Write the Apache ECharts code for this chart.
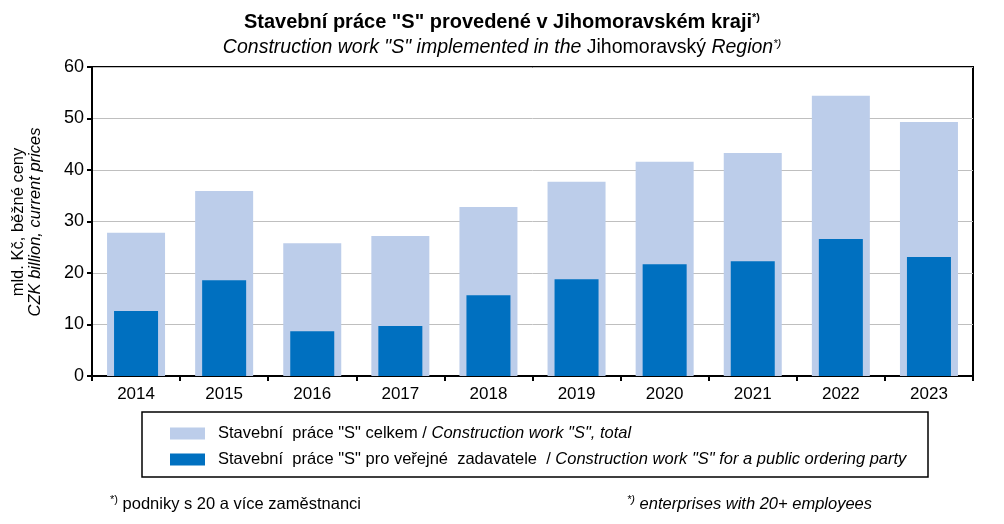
<!DOCTYPE html>
<html lang="cs">
<head>
    <meta charset="UTF-8">
    <script type="text/javascript" src="https://cdn.jsdelivr.net/npm/echarts@6/dist/echarts.min.js"></script>
    <style>
        html, body { margin: 0; padding: 0; background: #fff; }
        #chart { width: 1004px; height: 524px; }
    </style>
</head>
<body>
    <div id="chart"></div>
</body>
<script>
    // data
    var years = ["2014", "2015", "2016", "2017", "2018", "2019", "2020", "2021", "2022", "2023"];
    var totalWork = [27.8, 35.9, 25.8, 27.2, 32.8, 37.7, 41.6, 43.3, 54.4, 49.3];
    var publicWork = [12.6, 18.6, 8.7, 9.7, 15.7, 18.8, 21.7, 22.3, 26.6, 23.1];
    var yTicks = [0, 10, 20, 30, 40, 50, 60];

    var FONT = "Arial, 'Liberation Sans', sans-serif";
    var LIGHT = "#BCCDEA";
    var DARK = "#0070C0";

    var chart = echarts.init(document.getElementById("chart"));

    var option = {
        animation: false,
        backgroundColor: "#fff",
        textStyle: { fontFamily: FONT, color: "#000" },
        title: {
            left: "center",
            top: 7,
            itemGap: 6,
            text: '{b|Stavební práce "S" provedené v Jihomoravském kraji}{sup|*)}',
            subtext: '{i|Construction work "S" implemented in the }{n|Jihomoravský}{i| Region}{sup|*)}',
            textStyle: {
                rich: {
                    b: { fontFamily: FONT, fontSize: 20, fontWeight: "bold", color: "#000" },
                    sup: { fontFamily: FONT, fontSize: 11, color: "#000", padding: [0, 0, 9, 0] }
                }
            },
            subtextStyle: {
                rich: {
                    i: { fontFamily: FONT, fontSize: 19.5, fontStyle: "italic", color: "#000" },
                    n: { fontFamily: FONT, fontSize: 19.5, color: "#000" },
                    sup: { fontFamily: FONT, fontSize: 11, fontStyle: "italic", color: "#000", padding: [0, 0, 9, 0] }
                }
            }
        },
        grid: {
            left: 92, right: 31, top: 67, bottom: 148,
            show: true, borderColor: "#000", borderWidth: 2
        },
        legend: {
            orient: "vertical",
            left: 165,
            top: 420,
            itemWidth: 35,
            itemHeight: 12,
            itemGap: 9,
            icon: "rect",
            selectedMode: false,
            data: ["total", "public"],
            formatter: function (name) {
                if (name === "total") {
                    return '{n|Stavební  práce "S" celkem / }{i|Construction work "S", total}';
                }
                return '{n|Stavební  práce "S" pro veřejné  zadavatele  / }{i|Construction work "S" for a public ordering party}';
            },
            textStyle: {
                padding: [0, 0, 0, 8],
                rich: {
                    n: { fontFamily: FONT, fontSize: 16.5, color: "#000", lineHeight: 18 },
                    i: { fontFamily: FONT, fontSize: 16.5, fontStyle: "italic", color: "#000", lineHeight: 18 }
                }
            }
        },
        xAxis: [
            {
                type: "category",
                data: years,
                axisLine: { lineStyle: { color: "#000", width: 2 } },
                axisTick: { show: true, length: 5, lineStyle: { color: "#000", width: 2 } },
                axisLabel: { fontFamily: FONT, fontSize: 17, color: "#000", margin: 10 }
            },
            {
                type: "category",
                data: years,
                position: "bottom",
                show: false
            }
        ],
        yAxis: {
            type: "value",
            min: yTicks[0],
            max: yTicks[yTicks.length - 1],
            interval: 10,
            axisLine: { show: true, lineStyle: { color: "#000", width: 2 } },
            axisTick: { show: true, length: 5, lineStyle: { color: "#000", width: 2 } },
            axisLabel: { fontFamily: FONT, fontSize: 18, color: "#000", margin: 8 },
            splitLine: { lineStyle: { color: "#BFBFBF", width: 1 } }
        },
        series: [
            {
                name: "total",
                type: "bar",
                xAxisIndex: 0,
                data: totalWork,
                barWidth: 58,
                itemStyle: { color: LIGHT },
                z: 2
            },
            {
                name: "public",
                type: "bar",
                xAxisIndex: 1,
                data: publicWork,
                barWidth: 44,
                itemStyle: { color: DARK },
                z: 3
            }
        ],
        graphic: [
            {
                type: "rect",
                shape: { x: 142, y: 412, width: 786, height: 65 },
                style: { fill: "none", stroke: "#000", lineWidth: 1.5 },
                silent: true
            },
            {
                type: "text",
                x: 27, y: 222,
                rotation: Math.PI / 2,
                style: {
                    text: "{n|mld. Kč, běžné ceny}\n{i|CZK billion, current prices}",
                    align: "center",
                    verticalAlign: "middle",
                    rich: {
                        n: { fontFamily: FONT, fontSize: 16.5, color: "#000", lineHeight: 17, align: "center" },
                        i: { fontFamily: FONT, fontSize: 16.5, fontStyle: "italic", color: "#000", lineHeight: 17, align: "center" }
                    }
                },
                silent: true
            },
            {
                type: "text",
                x: 110, y: 504,
                style: {
                    text: "{s|*)}{n| podniky s 20 a více zaměstnanci}",
                    verticalAlign: "middle",
                    rich: {
                        s: { fontFamily: FONT, fontSize: 11, color: "#000", padding: [0, 0, 8, 0] },
                        n: { fontFamily: FONT, fontSize: 16.5, color: "#000" }
                    }
                },
                silent: true
            },
            {
                type: "text",
                x: 627, y: 504,
                style: {
                    text: "{s|*)}{i| enterprises with 20+ employees}",
                    verticalAlign: "middle",
                    rich: {
                        s: { fontFamily: FONT, fontSize: 11, fontStyle: "italic", color: "#000", padding: [0, 0, 8, 0] },
                        i: { fontFamily: FONT, fontSize: 16.5, fontStyle: "italic", color: "#000" }
                    }
                },
                silent: true
            }
        ]
    };

    chart.setOption(option);
</script>
</html>
